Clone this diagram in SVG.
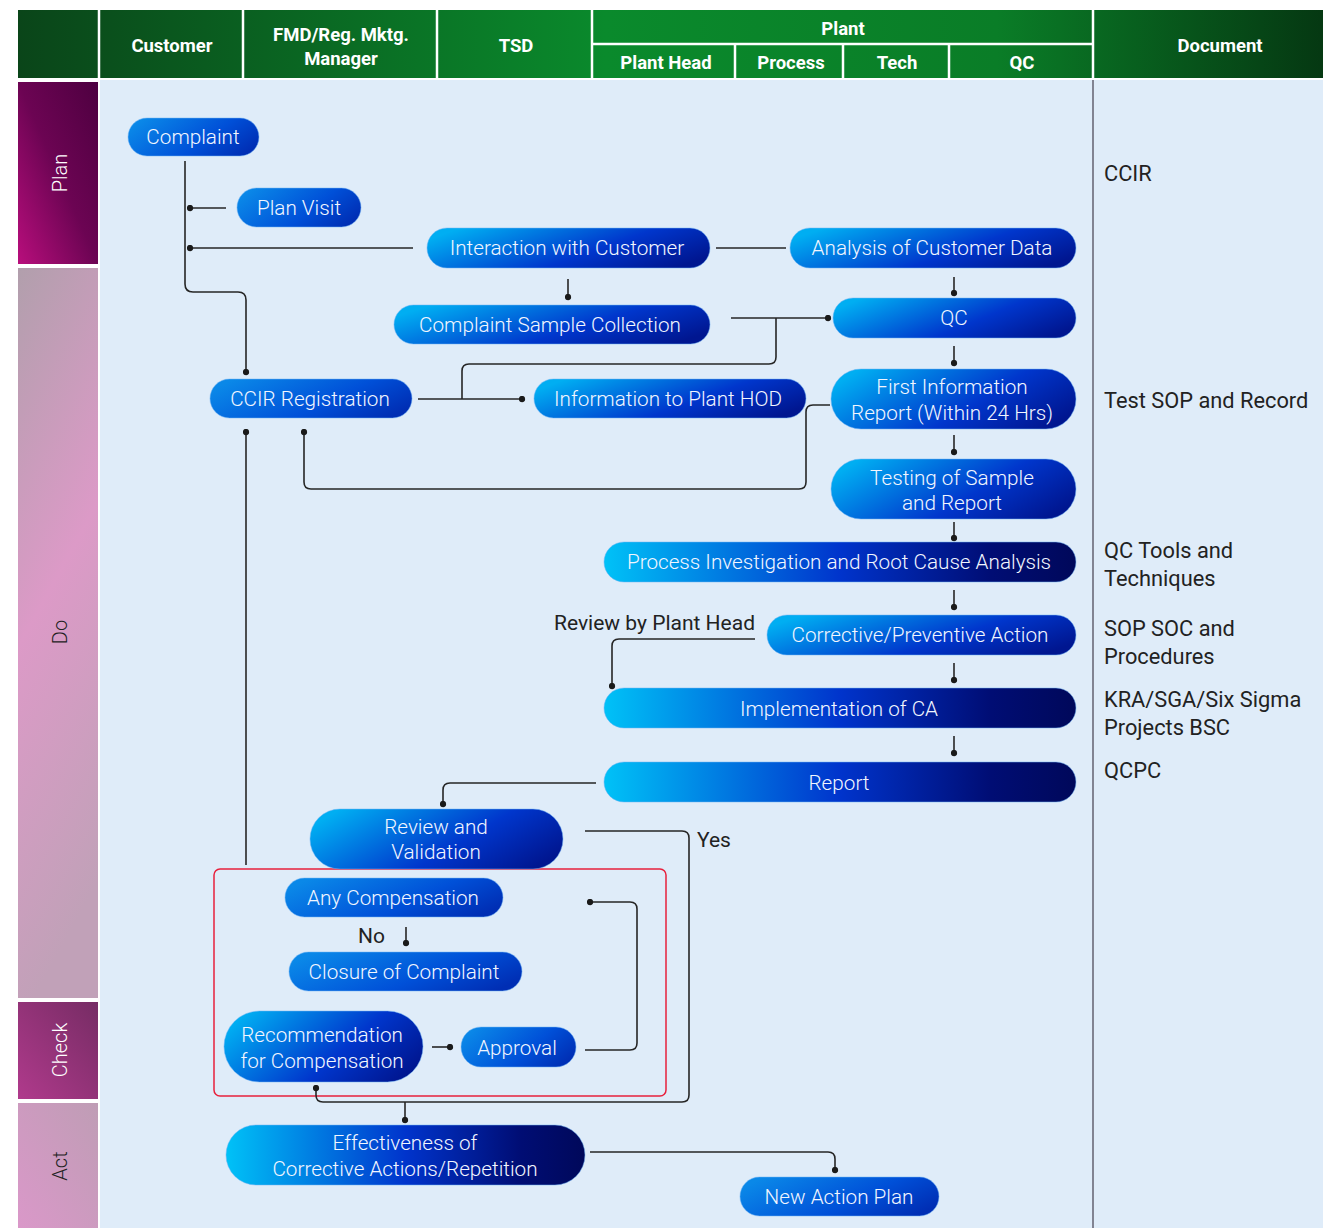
<svg xmlns="http://www.w3.org/2000/svg" width="1323" height="1228" viewBox="0 0 1323 1228">
<defs>
<style>
.hd{font-family:Roboto,"Liberation Sans",sans-serif;font-weight:700;font-size:18.5px;fill:#fff;text-anchor:middle}
.ph{font-family:Roboto,"Liberation Sans",sans-serif;font-size:20px;font-weight:300;text-anchor:middle}
.nt{font-family:Roboto,"Liberation Sans",sans-serif;font-size:20.7px;font-weight:300;fill:#f2f6ff;text-anchor:middle}
.dt{font-family:Roboto,"Liberation Sans",sans-serif;font-size:21.8px;fill:#222}
.lb{font-family:Roboto,"Liberation Sans",sans-serif;font-size:21px;fill:#222}
.cn{fill:none;stroke:#262626;stroke-width:1.6}
.nd{stroke:#6fb4f5;stroke-opacity:0.5;stroke-width:1}
.sep{stroke:#fff;stroke-width:2.5}
</style>
<linearGradient id="hdr" gradientUnits="userSpaceOnUse" x1="18" y1="0" x2="1323" y2="0">
<stop offset="0" stop-color="#0a4519"/><stop offset="0.45" stop-color="#0a8a2c"/><stop offset="0.75" stop-color="#0a7d27"/><stop offset="1" stop-color="#053812"/>
</linearGradient>
<linearGradient id="gPlan" x1="0" y1="1" x2="1" y2="0">
<stop offset="0" stop-color="#b80e7c"/><stop offset="0.5" stop-color="#6c0453"/><stop offset="1" stop-color="#4e0040"/>
</linearGradient>
<linearGradient id="gDo" x1="0" y1="0" x2="0.2" y2="1">
<stop offset="0" stop-color="#b19fac"/><stop offset="0.5" stop-color="#dc9ac7"/><stop offset="1" stop-color="#c1a1b8"/>
</linearGradient>
<linearGradient id="gCheck" x1="0" y1="1" x2="1" y2="0">
<stop offset="0" stop-color="#b03a8c"/><stop offset="1" stop-color="#762c64"/>
</linearGradient>
<linearGradient id="gAct" x1="0" y1="1" x2="1" y2="0">
<stop offset="0" stop-color="#da98c9"/><stop offset="1" stop-color="#bf9db5"/>
</linearGradient>
<linearGradient id="gA" x1="0" y1="0" x2="1" y2="0">
<stop offset="0" stop-color="#00c2f7"/><stop offset="0.5" stop-color="#0034cc"/><stop offset="0.82" stop-color="#000d74"/><stop offset="1" stop-color="#00085a"/>
</linearGradient>
<linearGradient id="gB" x1="0" y1="0.3" x2="1" y2="0.7">
<stop offset="0" stop-color="#00aef2"/><stop offset="0.6" stop-color="#0036cc"/><stop offset="1" stop-color="#001690"/>
</linearGradient>
<linearGradient id="gC" x1="0" y1="0.3" x2="1" y2="0.7">
<stop offset="0" stop-color="#0a88e8"/><stop offset="0.6" stop-color="#0050d8"/><stop offset="1" stop-color="#002eb4"/>
</linearGradient>
<marker id="dot" viewBox="0 0 8 8" refX="4" refY="4" markerWidth="7" markerHeight="7" markerUnits="userSpaceOnUse">
<circle cx="4" cy="4" r="3.6" fill="#1a1a1a"/>
</marker>
</defs>

<rect x="0" y="0" width="1323" height="1228" fill="#fff"/>
<rect x="100" y="80" width="1223" height="1148" fill="#dfecf9"/>
<line x1="1093" y1="80" x2="1093" y2="1228" stroke="#6a6a78" stroke-width="1.6"/>

<g id="header">
<rect x="18" y="10" width="1305" height="68" fill="url(#hdr)"/>
<line class="sep" x1="99" y1="10" x2="99" y2="80"/>
<line class="sep" x1="243" y1="10" x2="243" y2="80"/>
<line class="sep" x1="437" y1="10" x2="437" y2="80"/>
<line class="sep" x1="592" y1="10" x2="592" y2="80"/>
<line class="sep" x1="1093" y1="10" x2="1093" y2="80"/>
<line class="sep" x1="592" y1="44" x2="1093" y2="44"/>
<line class="sep" x1="735" y1="44" x2="735" y2="80"/>
<line class="sep" x1="843" y1="44" x2="843" y2="80"/>
<line class="sep" x1="949" y1="44" x2="949" y2="80"/>
<line x1="18" y1="79" x2="1323" y2="79" stroke="#fff" stroke-width="2"/>
<text class="hd" x="172" y="52">Customer</text>
<text class="hd" x="341" y="41">FMD/Reg. Mktg.</text>
<text class="hd" x="341" y="65">Manager</text>
<text class="hd" x="516" y="52">TSD</text>
<text class="hd" x="843" y="35">Plant</text>
<text class="hd" x="666" y="69">Plant Head</text>
<text class="hd" x="791" y="69">Process</text>
<text class="hd" x="897" y="69">Tech</text>
<text class="hd" x="1022" y="69">QC</text>
<text class="hd" x="1220" y="52">Document</text>
</g>

<g id="phases">
<rect x="18" y="82" width="80" height="182" fill="url(#gPlan)"/>
<rect x="18" y="268" width="80" height="730" fill="url(#gDo)"/>
<rect x="18" y="1002" width="80" height="97" fill="url(#gCheck)"/>
<rect x="18" y="1103" width="80" height="125" fill="url(#gAct)"/>
<text class="ph" transform="translate(67 173) rotate(-90)" fill="#fff">Plan</text>
<text class="ph" transform="translate(67 632) rotate(-90)" fill="#222">Do</text>
<text class="ph" transform="translate(67 1050) rotate(-90)" fill="#fff">Check</text>
<text class="ph" transform="translate(67 1166) rotate(-90)" fill="#222">Act</text>
</g>

<g id="documents">
<text class="dt" x="1104" y="181">CCIR</text>
<text class="dt" x="1104" y="408">Test SOP and Record</text>
<text class="dt" x="1104" y="558">QC Tools and</text>
<text class="dt" x="1104" y="586">Techniques</text>
<text class="dt" x="1104" y="636">SOP SOC and</text>
<text class="dt" x="1104" y="664">Procedures</text>
<text class="dt" x="1104" y="707">KRA/SGA/Six Sigma</text>
<text class="dt" x="1104" y="735">Projects BSC</text>
<text class="dt" x="1104" y="778">QCPC</text>
</g>

<rect id="compensation-box" x="214" y="869" width="452" height="227" rx="6" fill="none" stroke="#e8203c" stroke-width="1.5"/>

<g id="connectors">
<path class="cn" d="M185 161 V284 Q185 292 193 292 H238 Q246 292 246 300 V372" marker-end="url(#dot)"/>
<path class="cn" d="M226 208 H190" marker-end="url(#dot)"/>
<path class="cn" d="M413 248 H190" marker-end="url(#dot)"/>
<path class="cn" d="M716 248 H786"/>
<path class="cn" d="M568 279 V297" marker-end="url(#dot)"/>
<path class="cn" d="M954 277 V293" marker-end="url(#dot)"/>
<path class="cn" d="M731 318 H828" marker-end="url(#dot)"/>
<path class="cn" d="M776 318 V357 Q776 364 769 364 H469 Q462 364 462 371 V399"/>
<path class="cn" d="M418 399 H522" marker-end="url(#dot)"/>
<path class="cn" d="M830 405 H813 Q806 405 806 412 V482 Q806 489 799 489 H311 Q304 489 304 482 V432" marker-end="url(#dot)"/>
<path class="cn" d="M954 346 V363" marker-end="url(#dot)"/>
<path class="cn" d="M954 435 V452" marker-end="url(#dot)"/>
<path class="cn" d="M954 522 V538" marker-end="url(#dot)"/>
<path class="cn" d="M954 590 V607" marker-end="url(#dot)"/>
<path class="cn" d="M755 639 H619 Q612 639 612 646 V686" marker-end="url(#dot)"/>
<path class="cn" d="M954 663 V680" marker-end="url(#dot)"/>
<path class="cn" d="M954 736 V753" marker-end="url(#dot)"/>
<path class="cn" d="M596 783 H450 Q443 783 443 790 V804" marker-end="url(#dot)"/>
<path class="cn" d="M585 831 H682 Q689 831 689 838 V1095 Q689 1102 682 1102 H323 Q316 1102 316 1095 V1088" marker-end="url(#dot)"/>
<path class="cn" d="M405 1102 V1120" marker-end="url(#dot)"/>
<path class="cn" d="M585 1050 H630 Q637 1050 637 1043 V909 Q637 902 630 902 H590" marker-end="url(#dot)"/>
<path class="cn" d="M406 927 V943" marker-end="url(#dot)"/>
<path class="cn" d="M432 1047 H450" marker-end="url(#dot)"/>
<path class="cn" d="M590 1152 H828 Q835 1152 835 1159 V1170" marker-end="url(#dot)"/>
<path class="cn" d="M246 865 V432" marker-end="url(#dot)"/>
<text class="lb" x="554" y="630">Review by Plant Head</text>
<text class="lb" x="697" y="847">Yes</text>
<text class="lb" x="358" y="943">No</text>
</g>

<g id="n-complaint"><rect class="nd" x="128" y="118" width="131" height="38" rx="19" fill="url(#gC)"/><text class="nt" x="193" y="144">Complaint</text></g>
<g id="n-planvisit"><rect class="nd" x="237" y="188" width="124" height="39" rx="19.5" fill="url(#gC)"/><text class="nt" x="299" y="215">Plan Visit</text></g>
<g id="n-interaction"><rect class="nd" x="427" y="228" width="283" height="40" rx="20" fill="url(#gB)"/><text class="nt" x="567" y="255">Interaction with Customer</text></g>
<g id="n-analysis"><rect class="nd" x="790" y="228" width="286" height="40" rx="20" fill="url(#gB)"/><text class="nt" x="932" y="255">Analysis of Customer Data</text></g>
<g id="n-sample"><rect class="nd" x="394" y="305" width="316" height="39" rx="19.5" fill="url(#gB)"/><text class="nt" x="550" y="332">Complaint Sample Collection</text></g>
<g id="n-qc"><rect class="nd" x="833" y="298" width="243" height="40" rx="20" fill="url(#gB)"/><text class="nt" x="954" y="325">QC</text></g>
<g id="n-ccir"><rect class="nd" x="210" y="379" width="202" height="39" rx="19.5" fill="url(#gC)"/><text class="nt" x="310" y="406">CCIR Registration</text></g>
<g id="n-hod"><rect class="nd" x="534" y="379" width="272" height="39" rx="19.5" fill="url(#gB)"/><text class="nt" x="668" y="406">Information to Plant HOD</text></g>
<g id="n-fir"><rect class="nd" x="831" y="369" width="245" height="60" rx="30" fill="url(#gB)"/><text class="nt" x="952" y="394">First Information</text><text class="nt" x="952" y="420">Report (Within 24 Hrs)</text></g>
<g id="n-testing"><rect class="nd" x="831" y="459" width="245" height="60" rx="30" fill="url(#gB)"/><text class="nt" x="952" y="485">Testing of Sample</text><text class="nt" x="952" y="510">and Report</text></g>
<g id="n-process"><rect class="nd" x="604" y="542" width="472" height="40" rx="20" fill="url(#gA)"/><text class="nt" x="839" y="569">Process Investigation and Root Cause Analysis</text></g>
<g id="n-corrective"><rect class="nd" x="767" y="615" width="309" height="40" rx="20" fill="url(#gB)"/><text class="nt" x="920" y="642">Corrective/Preventive Action</text></g>
<g id="n-implementation"><rect class="nd" x="604" y="688" width="472" height="40" rx="20" fill="url(#gA)"/><text class="nt" x="839" y="716">Implementation of CA</text></g>
<g id="n-report"><rect class="nd" x="604" y="762" width="472" height="40" rx="20" fill="url(#gA)"/><text class="nt" x="839" y="790">Report</text></g>
<g id="n-review"><rect class="nd" x="310" y="809" width="253" height="60" rx="30" fill="url(#gB)"/><text class="nt" x="436" y="834">Review and</text><text class="nt" x="436" y="859">Validation</text></g>
<g id="n-anycomp"><rect class="nd" x="285" y="878" width="218" height="39" rx="19.5" fill="url(#gC)"/><text class="nt" x="393" y="905">Any Compensation</text></g>
<g id="n-closure"><rect class="nd" x="289" y="952" width="233" height="39" rx="19.5" fill="url(#gC)"/><text class="nt" x="404" y="979">Closure of Complaint</text></g>
<g id="n-recommendation"><rect class="nd" x="224" y="1011" width="199" height="71" rx="35.5" fill="url(#gB)"/><text class="nt" x="322" y="1042">Recommendation</text><text class="nt" x="322" y="1068">for Compensation</text></g>
<g id="n-approval"><rect class="nd" x="461" y="1027" width="115" height="40" rx="20" fill="url(#gC)"/><text class="nt" x="517" y="1055">Approval</text></g>
<g id="n-effectiveness"><rect class="nd" x="226" y="1125" width="359" height="60" rx="30" fill="url(#gA)"/><text class="nt" x="405" y="1150">Effectiveness of</text><text class="nt" x="405" y="1176">Corrective Actions/Repetition</text></g>
<g id="n-newplan"><rect class="nd" x="740" y="1177" width="199" height="39" rx="19.5" fill="url(#gC)"/><text class="nt" x="839" y="1204">New Action Plan</text></g>
</svg>
